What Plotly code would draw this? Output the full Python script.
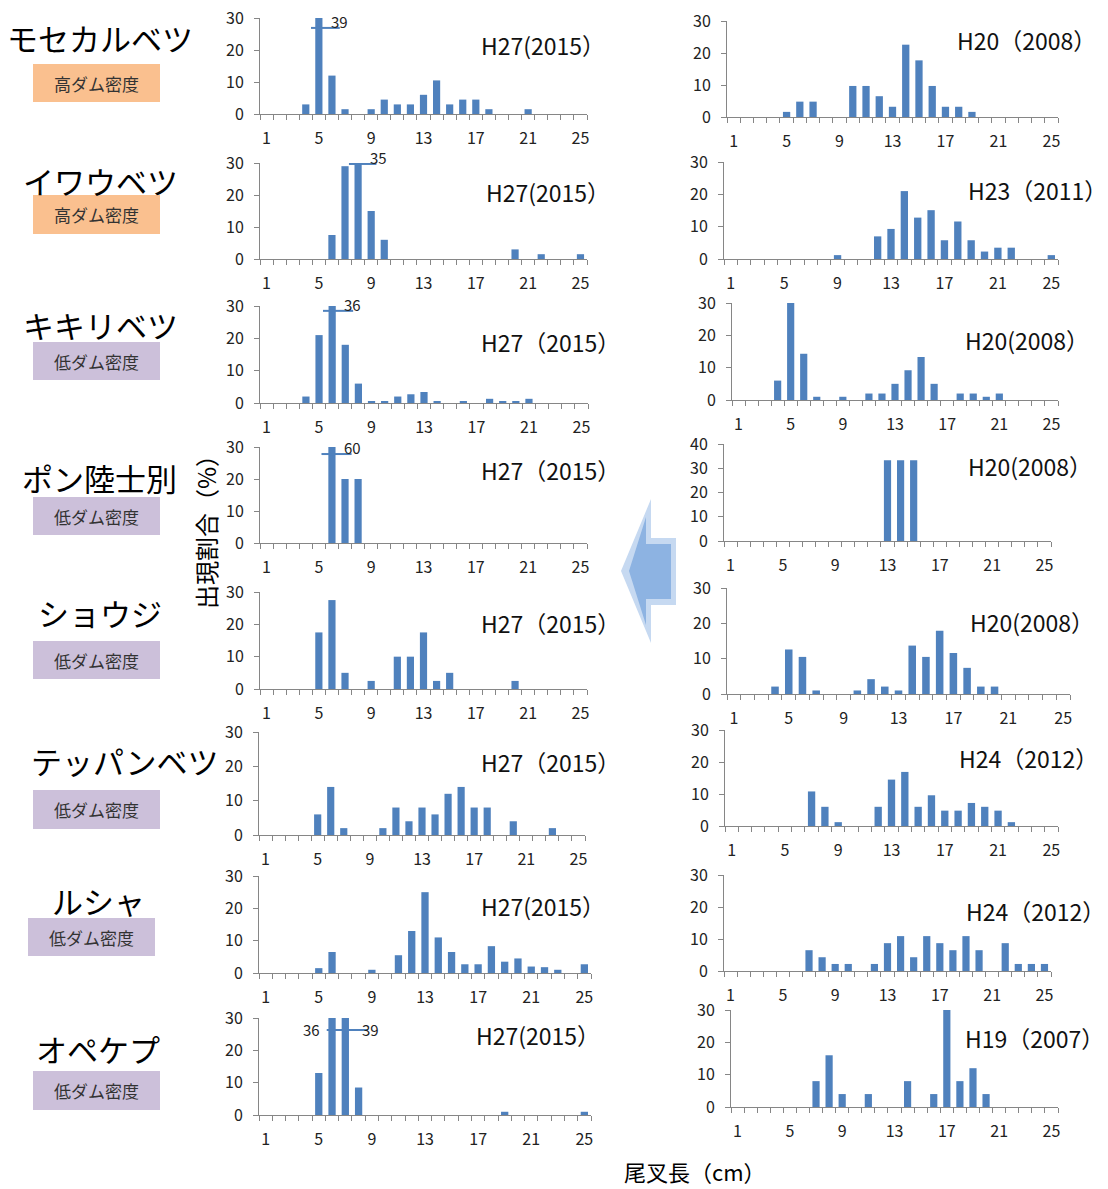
import plotly.graph_objects as go

# Fork length classes (cm)
length_classes = list(range(1, 26))
tick_labels = [1, 5, 9, 13, 17, 21, 25]

# Occurrence ratio (%) per 1 cm class, 1..25 cm
mosekaru_h27 = [0, 0, 0, 3, 39, 12, 1.5, 0, 1.5, 4.5, 3, 3, 6, 10.5, 3, 4.5, 4.5, 1.5, 0, 0, 1.5, 0, 0, 0, 0]
mosekaru_h20 = [0, 0, 0, 0, 1.6, 4.8, 4.8, 0, 0, 9.7, 9.7, 6.5, 3.2, 22.6, 17.7, 9.7, 3.2, 3.2, 1.6, 0, 0, 0, 0, 0, 0]
iwaube_h27 = [0, 0, 0, 0, 0, 7.5, 29, 35, 15, 6, 0, 0, 0, 0, 0, 0, 0, 0, 0, 3, 0, 1.5, 0, 0, 1.5]
iwaube_h23 = [0, 0, 0, 0, 0, 0, 0, 0, 1.2, 0, 0, 7, 9.3, 21, 12.8, 15.1, 5.8, 11.6, 5.8, 2.3, 3.5, 3.5, 0, 0, 1.2]
kikiri_h27 = [0, 0, 0, 2, 21, 36, 18, 6, 0.6, 0.6, 2, 2.7, 3.4, 0.6, 0, 0.6, 0, 1.3, 0.6, 0.6, 1.3, 0, 0, 0, 0]
kikiri_h20 = [0, 0, 0, 6, 30, 14.3, 1, 0, 1, 0, 2, 2, 5, 9.2, 13.3, 5, 0, 2, 2, 1, 2, 0, 0, 0, 0]
pon_h27 = [0, 0, 0, 0, 0, 60, 20, 20, 0, 0, 0, 0, 0, 0, 0, 0, 0, 0, 0, 0, 0, 0, 0, 0, 0]
pon_h20 = [0, 0, 0, 0, 0, 0, 0, 0, 0, 0, 0, 0, 33.3, 33.3, 33.3, 0, 0, 0, 0, 0, 0, 0, 0, 0, 0]
shouji_h27 = [0, 0, 0, 0, 17.5, 27.5, 5, 0, 2.5, 0, 10, 10, 17.5, 2.5, 5, 0, 0, 0, 0, 2.5, 0, 0, 0, 0, 0]
shouji_h20 = [0, 0, 0, 2.1, 12.6, 10.5, 1, 0, 0, 1, 4.2, 2.1, 1, 13.7, 10.5, 17.9, 11.6, 7.4, 2.1, 2.1, 0, 0, 0, 0, 0]
teppan_h27 = [0, 0, 0, 0, 6, 14, 2, 0, 0, 2, 8, 4, 8, 6, 12, 14, 8, 8, 0, 4, 0, 0, 2, 0, 0]
teppan_h24 = [0, 0, 0, 0, 0, 0, 10.8, 6, 1.2, 0, 0, 6, 14.5, 16.9, 6, 9.6, 4.8, 4.8, 7.2, 6, 4.8, 1.2, 0, 0, 0]
rusha_h27 = [0, 0, 0, 0, 1.5, 6.5, 0, 0, 1, 0, 5.5, 13, 25, 11, 6.5, 2.7, 2.7, 8.3, 3.5, 4.5, 2, 1.8, 1, 0, 2.7]
rusha_h24 = [0, 0, 0, 0, 0, 0, 6.5, 4.3, 2.2, 2.2, 0, 2.2, 8.7, 10.9, 4.3, 10.9, 8.7, 6.5, 10.9, 6.5, 0, 8.7, 2.2, 2.2, 2.2]
opekepu_h27 = [0, 0, 0, 0, 13, 36, 39, 8.5, 0, 0, 0, 0, 0, 0, 0, 0, 0, 0, 1, 0, 0, 0, 0, 0, 1]
opekepu_h19 = [0, 0, 0, 0, 0, 0, 8, 16, 4, 0, 4, 0, 0, 8, 0, 4, 32, 8, 12, 4, 0, 0, 0, 0, 0]

rivers = ["モセカルベツ", "イワウベツ", "キキリベツ", "ポン陸士別", "ショウジ", "テッパンベツ", "ルシャ", "オペケプ"]
density = ["高ダム密度", "高ダム密度", "低ダム密度", "低ダム密度", "低ダム密度", "低ダム密度", "低ダム密度", "低ダム密度"]
years_left = ["H27(2015）", "H27(2015）", "H27（2015）", "H27（2015）", "H27（2015）", "H27（2015）", "H27(2015）", "H27(2015）"]
years_right = ["H20（2008）", "H23（2011）", "H20(2008）", "H20(2008）", "H20(2008）", "H24（2012）", "H24（2012）", "H19（2007）"]
series_left = [mosekaru_h27, iwaube_h27, kikiri_h27, pon_h27, shouji_h27, teppan_h27, rusha_h27, opekepu_h27]
series_right = [mosekaru_h20, iwaube_h23, kikiri_h20, pon_h20, shouji_h20, teppan_h24, rusha_h24, opekepu_h19]

W, H = 1108, 1189
BAR = "#4F81BD"
AXIS = "#868686"
FONT = "Noto Sans CJK JP"

# Plot-area boxes in pixels: (left, right, top, bottom)
boxes_left = [(260, 587, 18, 114), (260, 587, 163, 259), (260, 588, 306, 403), (260, 587, 447, 543),
              (260, 587, 592, 689), (259, 585, 732, 835), (259, 591, 876, 973), (259, 591, 1018, 1115)]
boxes_right = [(727, 1058, 21, 117), (724, 1058, 162, 259), (732, 1058, 303, 400), (724, 1051, 444, 541),
               (727, 1070, 588, 694), (725, 1058, 730, 826), (724, 1051, 875, 971), (731, 1058, 1010, 1107)]
ymax_right = [30, 30, 30, 40, 30, 30, 30, 30]

# Year label anchor (left edge x, centre y) in pixels
year_pos_left = [(479, 45), (484, 192), (479, 342), (479, 470), (479, 623), (479, 762), (479, 906), (474, 1035)]
year_pos_right = [(955, 40), (966, 190), (963, 340), (966, 466), (968, 622), (957, 758), (964, 911), (963, 1038)]

river_pos = [(100, 37), (100, 180), (100, 325), (99, 478), (100, 612), (125, 760), (98, 900), (98, 1048)]
badge_box = [(33, 160, 64, 102), (33, 160, 195, 234), (33, 160, 342, 380), (33, 160, 497, 535),
             (33, 160, 641, 679), (33, 160, 790, 829), (28, 155, 918, 956), (33, 160, 1071, 1110)]
badge_color = {"高ダム密度": "#FAC08F", "低ダム密度": "#CCC0DA"}

# Break markers for bars running past the axis top: (row, x0 offset, x1 offset, y)
breaks = [(0, -0.6, 1.6, 26.9), (1, -0.7, 1.4, 29.7), (2, -0.7, 1.6, 28.5), (3, -0.8, 1.5, 27.8), (7, -0.4, 1.7, 26.3)]

fig = go.Figure()
layout = {}
annotations = []
shapes = []


def px_x(v):
    return v / W


def px_y(v):
    return 1 - v / H


panels = []
for i in range(8):
    panels.append((series_left[i], boxes_left[i], 30, years_left[i], year_pos_left[i]))
    panels.append((series_right[i], boxes_right[i], ymax_right[i], years_right[i], year_pos_right[i]))

for k, (vals, box, ymax, ylab, ypos) in enumerate(panels):
    n = k + 1
    xa = "x" if n == 1 else f"x{n}"
    ya = "y" if n == 1 else f"y{n}"
    fig.add_trace(go.Bar(x=length_classes, y=vals, marker=dict(color=BAR, line=dict(width=0)),
                         xaxis=xa, yaxis=ya, width=0.55, showlegend=False))
    l, r, t, b = box
    layout["xaxis" if n == 1 else f"xaxis{n}"] = dict(
        domain=[px_x(l), px_x(r)], anchor=ya, range=[0.5, 25.5],
        tickmode="array", tickvals=tick_labels, ticktext=[str(v) for v in tick_labels],
        ticks="", ticklabelstandoff=10, showline=True, linecolor=AXIS, linewidth=1,
        showgrid=False, zeroline=False, fixedrange=True,
        tickfont=dict(family=FONT, size=16, color="#222"),
        minor=dict(ticks="outside", tick0=0.5, dtick=1, ticklen=5, tickcolor=AXIS, tickwidth=1, showgrid=False),
    )
    layout["yaxis" if n == 1 else f"yaxis{n}"] = dict(
        domain=[px_y(b), px_y(t)], anchor=xa, range=[0, ymax], dtick=10,
        ticks="outside", ticklen=5, tickcolor=AXIS, ticklabelstandoff=7,
        showline=True, linecolor=AXIS, linewidth=1, showgrid=False, zeroline=False, fixedrange=True,
        tickfont=dict(family=FONT, size=16, color="#222"),
    )
    annotations.append(dict(x=px_x(ypos[0]), y=px_y(ypos[1]), xref="paper", yref="paper",
                            xanchor="left", yanchor="middle", text=ylab, showarrow=False,
                            font=dict(family=FONT, size=23, color="#111")))


def data_to_paper_y(box, ymax, v):
    l, r, t, b = box
    return px_y(b - (b - t) * v / ymax)


# Value labels and break lines for clipped bars (left column only)
label_font = dict(family=FONT, size=15, color="#222")
for row, dx0, dx1, yb in breaks:
    vals = series_left[row]
    box = boxes_left[row]
    n = 2 * row + 1
    xa = "x" if n == 1 else f"x{n}"
    ya = "y" if n == 1 else f"y{n}"
    over = [c for c, v in zip(length_classes, vals) if v > 30]
    shapes.append(dict(type="line", xref=xa, yref=ya, x0=over[0] + dx0, x1=over[-1] + dx1, y0=yb, y1=yb,
                       line=dict(color=BAR, width=2)))
    if len(over) == 1:
        c = over[0]
        annotations.append(dict(x=c + 0.75, y=data_to_paper_y(box, 30, yb + 1.9), xref=xa, yref="paper",
                                xanchor="left", yanchor="middle", text=f"{vals[c - 1]:g}", showarrow=False,
                                font=label_font))
    else:
        c0, c1 = over[0], over[-1]
        annotations.append(dict(x=c0 - 0.75, y=data_to_paper_y(box, 30, yb), xref=xa, yref="paper",
                                xanchor="right", yanchor="middle", text=f"{vals[c0 - 1]:g}", showarrow=False,
                                font=label_font))
        annotations.append(dict(x=c1 + 1.1, y=data_to_paper_y(box, 30, yb), xref=xa, yref="paper",
                                xanchor="left", yanchor="middle", text=f"{vals[c1 - 1]:g}", showarrow=False,
                                font=label_font))

# River names and dam-density badges
for i in range(8):
    cx, cy = river_pos[i]
    annotations.append(dict(x=px_x(cx), y=px_y(cy), xref="paper", yref="paper", xanchor="center",
                            yanchor="middle", text=rivers[i], showarrow=False,
                            font=dict(family=FONT, size=31, color="#000")))
    bl, br, bt, bb = badge_box[i]
    shapes.append(dict(type="rect", xref="paper", yref="paper", x0=px_x(bl), x1=px_x(br),
                       y0=px_y(bb), y1=px_y(bt), fillcolor=badge_color[density[i]], line=dict(width=0),
                       layer="below"))
    annotations.append(dict(x=px_x((bl + br) / 2), y=px_y((bt + bb) / 2), xref="paper", yref="paper",
                            xanchor="center", yanchor="middle", text=density[i], showarrow=False,
                            font=dict(family=FONT, size=17, color="#333")))

# Axis titles
annotations.append(dict(x=px_x(205), y=px_y(526), xref="paper", yref="paper", text="出現割合（%）",
                        textangle=-90, showarrow=False, xanchor="center", yanchor="middle",
                        font=dict(family=FONT, size=24, color="#000")))
annotations.append(dict(x=px_x(695), y=px_y(1171), xref="paper", yref="paper", text="尾叉長（cm）",
                        showarrow=False, xanchor="center", yanchor="middle",
                        font=dict(family=FONT, size=22, color="#000")))


# Left-pointing block arrow between the two columns
def arrow_path(pts):
    return "M " + " L ".join(f"{px_x(x):.5f},{px_y(y):.5f}" for x, y in pts) + " Z"


outer = [(621, 571), (651, 499), (651, 538), (676, 538), (676, 605), (651, 605), (651, 643)]
inner = [(629, 571), (646, 517), (646, 544), (671, 544), (671, 599), (646, 599), (646, 625)]
shapes.append(dict(type="path", xref="paper", yref="paper", path=arrow_path(outer),
                   fillcolor="#C6D9F1", line=dict(width=0)))
shapes.append(dict(type="path", xref="paper", yref="paper", path=arrow_path(inner),
                   fillcolor="#8DB3E2", line=dict(width=0)))

fig.update_layout(width=W, height=H, margin=dict(l=0, r=0, t=0, b=0, pad=0, autoexpand=False),
                  paper_bgcolor="white", plot_bgcolor="white", bargap=0.45,
                  annotations=annotations, shapes=shapes, font=dict(family=FONT), **layout)

fig.write_html("out.html")
